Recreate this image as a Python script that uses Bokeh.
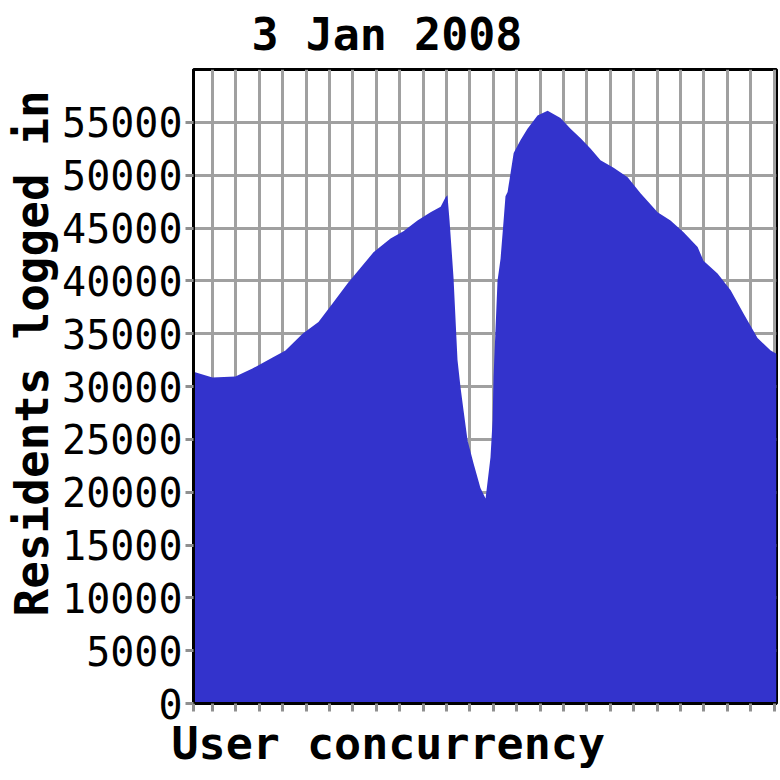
from bokeh.plotting import figure
from bokeh.models import Title, FixedTicker, Range1d
from bokeh.embed import file_html
from bokeh.resources import INLINE

hours = [0.00, 0.81, 1.79, 2.52, 3.38, 3.93, 4.66, 5.34, 5.94, 6.58, 7.14, 7.69,
         8.42, 8.97, 9.57, 10.13, 10.56, 10.77, 10.85, 10.94, 11.11, 11.28, 11.41,
         11.54, 11.71, 11.97, 12.26, 12.48, 12.69, 12.78, 12.82, 12.99, 13.12, 13.25,
         13.33, 13.42, 13.68, 13.97, 14.27, 14.70, 15.13, 15.68, 16.11, 16.54, 16.97,
         17.39, 17.95, 18.55, 19.10, 19.83, 20.38, 20.94, 21.54, 21.79, 22.39, 22.95,
         23.50, 24.10, 24.66, 24.91]
residents = [31400, 30850, 30950, 31700, 32750, 33400, 35000, 36100, 37850, 39750,
             41250, 42700, 44000, 44700, 45700, 46500, 47000, 47900, 48100, 45700,
             40300, 32500, 29900, 27700, 24900, 22700, 20400, 19400, 23300, 26800,
             30900, 40000, 42100, 45700, 48000, 48400, 52100, 53300, 54400, 55650,
             56100, 55400, 54400, 53500, 52500, 51400, 50700, 49800, 48300, 46500,
             45700, 44600, 43200, 41900, 40700, 39100, 36900, 34600, 33400, 33100]

x_grid_ticks = [0.81 + k for k in range(25)]
x_axis_ticks = [0.0] + x_grid_ticks
y_ticks = list(range(0, 60000, 5000))

title_text = "3 Jan 2008"
x_label = "User concurrency"
y_label = "Residents logged in"

FONT = "DejaVu Sans Mono"

p = figure(width=778, height=776, output_backend="svg", toolbar_location=None,
           x_range=Range1d(0, 24.91), y_range=Range1d(0, 60000),
           min_border_left=193, min_border_right=2, min_border_top=68,
           min_border_bottom=73, background_fill_color="white",
           border_fill_color="white")

p.varea(x=hours, y1=0, y2=residents, fill_color="#3333CC", fill_alpha=1.0)

p.outline_line_color = "black"
p.outline_line_width = 3
p.outline_line_alpha = 1.0

p.xgrid.ticker = FixedTicker(ticks=x_grid_ticks)
p.ygrid.ticker = FixedTicker(ticks=y_ticks)
for g in (p.xgrid, p.ygrid):
    g.grid_line_color = "#A0A0A0"
    g.grid_line_width = 3
    g.grid_line_alpha = 1.0

# x axis: unlabeled tick marks only (drawn as minor ticks)
p.xaxis.ticker = FixedTicker(ticks=[], minor_ticks=x_axis_ticks)
p.xaxis.minor_tick_in = 0
p.xaxis.minor_tick_out = 8
p.xaxis.minor_tick_line_color = "#909090"
p.xaxis.minor_tick_line_width = 3
p.xaxis.major_tick_line_color = None

p.yaxis.ticker = FixedTicker(ticks=y_ticks)
p.yaxis.major_tick_in = 0
p.yaxis.major_tick_out = 8
p.yaxis.major_tick_line_color = "#909090"
p.yaxis.major_tick_line_width = 3
p.yaxis.minor_tick_line_color = None

for ax in (p.xaxis, p.yaxis):
    ax.axis_line_color = "black"
    ax.axis_line_width = 3

p.yaxis.major_label_text_font = FONT
p.yaxis.major_label_text_font_size = "40px"
p.yaxis.major_label_text_color = "black"
p.yaxis.major_label_standoff = 3

p.title.text = title_text
p.title.align = "left"
p.title.vertical_align = "top"
p.title.offset = 58
p.title.standoff = 14
p.title.text_font = FONT
p.title.text_font_size = "45px"
p.title.text_font_style = "bold"
p.title.text_color = "black"

xt = Title(text=x_label, align="left", offset=-22, text_font=FONT,
           text_font_size="45px", text_font_style="bold", text_color="black",
           standoff=7)
p.add_layout(xt, "below")

yt = Title(text=y_label, align="left", offset=87, text_font=FONT,
           text_font_size="46px", text_font_style="bold", text_color="black",
           standoff=2)
p.add_layout(yt, "left")

open("out.html", "w").write(file_html(p, INLINE))
